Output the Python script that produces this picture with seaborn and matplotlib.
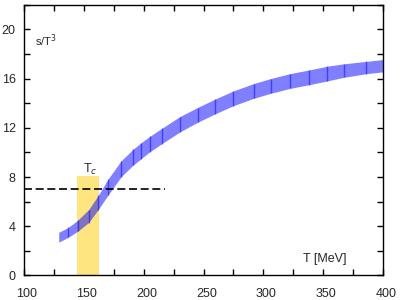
import numpy as np
import pandas as pd
import matplotlib
matplotlib.use("Agg")
import matplotlib.pyplot as plt
import matplotlib.transforms as mtransforms
from matplotlib.ticker import MultipleLocator
import seaborn as sns

# entropy band
temps = [129, 137, 145, 154, 162, 170, 181, 191, 198, 205, 215, 230, 245, 260,
         275, 292, 306, 322, 338, 353, 367, 386, 400]
s_upper = [3.5, 3.9, 4.5, 5.35, 6.5, 7.8, 9.3, 10.25, 10.8, 11.3, 11.95, 12.9, 13.65, 14.35,
           15.0, 15.6, 16.0, 16.4, 16.7, 17.0, 17.2, 17.4, 17.55]
s_lower = [2.7, 3.1, 3.6, 4.3, 5.35, 6.5, 8.0, 8.95, 9.5, 10.05, 10.7, 11.65, 12.45, 13.15,
           13.8, 14.4, 14.8, 15.2, 15.5, 15.8, 16.1, 16.4, 16.55]

# critical region and reference level
tc_range = [144, 163]
tc_height = 8.1
dash_x = [100, 218]
dash_y = [7.0, 7.0]

x_ticks = [100, 150, 200, 250, 300, 350, 400]
y_ticks = [0, 4, 8, 12, 16, 20]

sns.set_theme(style="white")
plt.rcParams["font.family"] = ["Liberation Sans", "DejaVu Sans"]

fig = plt.figure(figsize=(4, 3), dpi=100)
ax = fig.add_axes([0.06, 0.082, 0.8975, 0.902])

ax.fill_between(tc_range, 0, tc_height, color="#ffe580", linewidth=0, zorder=1)

df = pd.DataFrame({"T": temps, "lo": s_lower, "hi": s_upper})
ax.fill_between(df["T"], df["lo"], df["hi"], color="blue", alpha=0.5, linewidth=0, zorder=2)
ax.vlines(df["T"][1:-1], df["lo"][1:-1], df["hi"][1:-1], color="blue", alpha=0.5,
          linewidth=1, zorder=3)

line = pd.DataFrame({"x": dash_x, "y": dash_y})
sns.lineplot(data=line, x="x", y="y", ax=ax, color="black", linewidth=1.2, zorder=4)
ax.lines[-1].set_dashes([4.8, 2.2])

ax.set_xlim(100, 400)
ax.set_ylim(0, 22)
ax.set_xticks(x_ticks)
ax.set_yticks(y_ticks)
ax.xaxis.set_minor_locator(MultipleLocator(25))
ax.yaxis.set_minor_locator(MultipleLocator(2))
ax.tick_params(which="both", direction="in", length=4.5, width=1, color="black",
               top=True, right=True, bottom=True, left=True, labelsize=9)
ax.tick_params(axis="x", pad=9)
ax.tick_params(axis="y", pad=6)
shift = mtransforms.ScaledTranslation(3 / 100, 0, fig.dpi_scale_trans)
for lab in ax.get_xticklabels():
    lab.set_transform(lab.get_transform() + shift)
for sp in ax.spines.values():
    sp.set_color("black")
    sp.set_linewidth(1)
ax.set_xlabel("")
ax.set_ylabel("")

ax.text(109, 18.65, "s/T$^3$", fontsize=8, va="baseline", ha="left")
ax.text(149, 8.3, "T$_c$", fontsize=9, va="baseline", ha="left")
ax.text(333, 1.08, "T [MeV]", fontsize=9, va="baseline", ha="left")

fig.savefig("out.png", dpi=100)
